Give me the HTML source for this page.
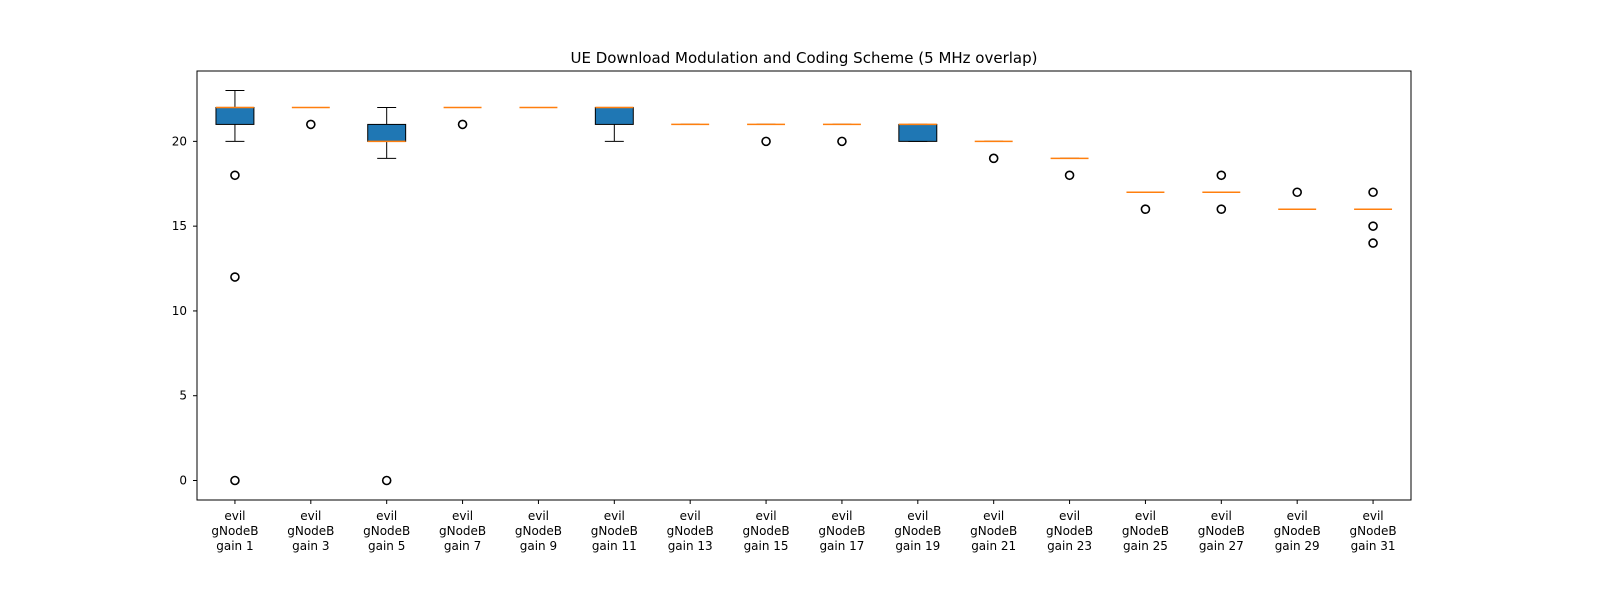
<!DOCTYPE html>
<html><head><meta charset="utf-8"><style>
body{margin:0;background:#fff;overflow:hidden;}
svg{display:block;}
svg text{font-family:"DejaVu Sans","Liberation Sans",sans-serif;font-size:12px;fill:#000;}
</style></head><body>
<svg id="chart" width="1600" height="600" xmlns="http://www.w3.org/2000/svg">
<rect width="1600" height="600" fill="#fff"/>
<text x="804" y="63" text-anchor="middle" style="font-size:15px">UE Download Modulation and Coding Scheme (5 MHz overlap)</text>
<g id="plot"></g>
<rect x="197" y="71" width="1214" height="429" fill="none" stroke="#000" stroke-width="1"/>
</svg>
<script>
const categories=["gain 1","gain 3","gain 5","gain 7","gain 9","gain 11","gain 13","gain 15","gain 17","gain 19","gain 21","gain 23","gain 25","gain 27","gain 29","gain 31"];
const whisLow=[20,22,19,22,22,20,21,21,21,20,20,19,17,17,16,16];
const q1=[21,22,20,22,22,21,21,21,21,20,20,19,17,17,16,16];
const medians=[22,22,20,22,22,22,21,21,21,21,20,19,17,17,16,16];
const q3=[22,22,21,22,22,22,21,21,21,21,20,19,17,17,16,16];
const whisHigh=[23,22,22,22,22,22,21,21,21,21,20,19,17,17,16,16];
const fliers=[[18,12,0],[21],[0],[21],[],[],[],[20],[20],[],[19],[18],[16],[16,18],[17],[17,15,14]];
const yTicks=[0,5,10,15,20];
const L=197,R=1411,T=71,B=500,yMin=-1.15,yMax=24.15;
const x=i=>L+(i+0.5)/categories.length*(R-L);
const y=v=>B-(v-yMin)/(yMax-yMin)*(B-T);
const g=document.getElementById('plot');
const NS='http://www.w3.org/2000/svg';
function mk(t,a){const e=document.createElementNS(NS,t);for(const k in a)e.setAttribute(k,a[k]);g.appendChild(e);return e;}
const bw=(R-L)/categories.length*0.5;
yTicks.forEach(v=>{
  const l=mk('line',{x1:L-4,x2:L,y1:y(v),y2:y(v),stroke:'#000'});
  
  
  const t=mk('text',{x:L-10,y:y(v)+4,'text-anchor':'end'});t.textContent=v;
  
  
});
categories.forEach((c,i)=>{
  const cx=x(i);
  const tk=mk('line',{x1:cx,x2:cx,y1:B,y2:B+4,stroke:'#000'});
  
  
  ['evil','gNodeB',c].forEach((s,k)=>{const t=mk('text',{x:cx,y:B+20+k*15,'text-anchor':'middle'});t.textContent=s;
    
    });
  const w1=mk('line',{x1:cx,x2:cx,y1:y(whisLow[i]),y2:y(q1[i]),stroke:'#000'});
  
  
  const w2=mk('line',{x1:cx,x2:cx,y1:y(whisHigh[i]),y2:y(q3[i]),stroke:'#000'});
  
  
  [whisLow[i],whisHigh[i]].forEach(v=>{const cp=mk('line',{x1:cx-bw/4,x2:cx+bw/4,y1:y(v),y2:y(v),stroke:'#000'});
    
    });
  const bx=mk('rect',{x:cx-bw/2,y:y(q3[i]),width:bw,height:Math.max(0,y(q1[i])-y(q3[i])),fill:'#1f77b4',stroke:'#000','stroke-width':1});
  
  
  const md=mk('line',{x1:cx-bw/2,x2:cx+bw/2,y1:y(medians[i]),y2:y(medians[i]),stroke:'#ff7f0e','stroke-width':1.5});
  
  
  fliers[i].forEach(v=>{const f=mk('circle',{cx:cx,cy:y(v),r:4,fill:'none',stroke:'#000','stroke-width':1.6});
    
    });
});
</script>
</body></html>
